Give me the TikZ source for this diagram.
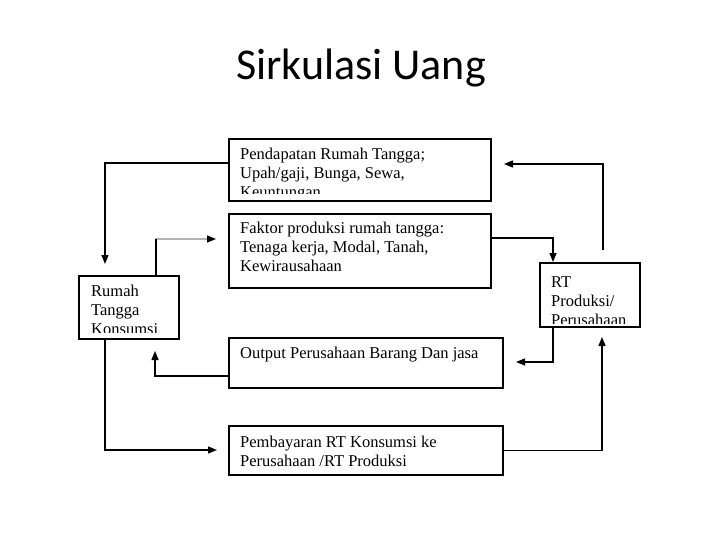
\documentclass[tikz,border=0pt]{standalone}
\usepackage{fontspec}
\setmainfont{Liberation Serif}
\newfontfamily\titlefont{Carlito}
\usetikzlibrary{arrows.meta}
\begin{document}
\begin{tikzpicture}[x=1pt,y=-1pt,
    box/.style={draw, line width=2pt, inner sep=0pt},
    txt/.style={anchor=north west, align=left, inner sep=0pt,
      font=\fontsize{16.5}{19}\selectfont},
    arr/.style={-{Triangle[length=9pt,width=7pt,color=black]}, line width=1.3pt}]
  \useasboundingbox (0,0) rectangle (720,540);
  % title
  \node[anchor=base, font=\fontsize{44}{52}\selectfont\titlefont] (title) at (361,80) {Sirkulasi Uang};
  % boxes
  \node[box, minimum width=262pt, minimum height=62pt] (pend) at (360,170) {};
  \node[box, minimum width=262pt, minimum height=74pt] (fakt) at (360,251) {};
  \node[box, minimum width=100pt, minimum height=63pt] (rtk) at (129,307.5) {};
  \node[box, minimum width=100pt, minimum height=64pt] (rtp) at (590,295) {};
  \node[box, minimum width=274pt, minimum height=50pt] (outp) at (366,363) {};
  \node[box, minimum width=274pt, minimum height=49pt] (bayar) at (366,450.5) {};
  % texts, cut off at the lower edge of their box
  \begin{scope}
    \clip ([shift={(1pt,8pt)}]pend.south west) rectangle (pend.north east);
    \node[txt] (pendtxt) at ([xshift=12pt,yshift=-10pt]pend.north west)
      {Pendapatan Rumah Tangga;\\Upah/gaji, Bunga, Sewa,\\Keuntungan};
  \end{scope}
  \node[txt] (fakttxt) at ([xshift=12pt,yshift=-9pt]fakt.north west)
    {Faktor produksi rumah tangga:\\Tenaga kerja, Modal, Tanah,\\Kewirausahaan};
  \begin{scope}
    \clip ([shift={(1pt,8pt)}]rtk.south west) rectangle (rtk.north east);
    \node[txt] (rtktxt) at ([xshift=13pt,yshift=-10pt]rtk.north west)
      {Rumah\\Tangga\\Konsumsi};
  \end{scope}
  \begin{scope}
    \clip ([shift={(1pt,5pt)}]rtp.south west) rectangle (rtp.north east);
    \node[txt] (rtptxt) at ([xshift=12pt,yshift=-14pt]rtp.north west)
      {RT\\Produksi/\\Perusahaan};
  \end{scope}
  \node[txt] (outptxt) at ([xshift=12pt,yshift=-10pt]outp.north west)
    {Output Perusahaan Barang Dan jasa};
  \node[txt] (bayartxt) at ([xshift=12pt,yshift=-11pt]bayar.north west)
    {Pembayaran RT Konsumsi ke\\Perusahaan /RT Produksi};
  % free ends of the arrows
  \coordinate (e1) at (105,264);
  \coordinate (e2) at (216,239);
  \coordinate (e3) at (553,262);
  \coordinate (e4) at (504,164);
  \coordinate (e5) at (516,362);
  \coordinate (e6) at (155,351);
  \coordinate (e7) at (217,450);
  \coordinate (e8) at (602,337);
  % arrows
  \draw[arr] ([yshift=7pt]pend.west) -| (e1);
  \draw[arr, gray!60] ([xshift=27pt]rtk.north) |- (e2);
  \draw[line width=2pt] ([xshift=27pt]rtk.north) -- ([xshift=27pt]rtk.north |- e2);
  \draw[arr] ([yshift=13pt]fakt.east) -| (e3);
  \draw[arr] ([xshift=13pt,yshift=12pt]rtp.north) |- (e4);
  \draw[arr] ([xshift=-37pt]rtp.south) |- (e5);
  \draw[arr] ([yshift=-13pt]outp.west) -| (e6);
  \draw[arr] ([xshift=-24pt]rtk.south) |- (e7);
  \draw[arr] (bayar.east) -| (e8);
\end{tikzpicture}
\end{document}
